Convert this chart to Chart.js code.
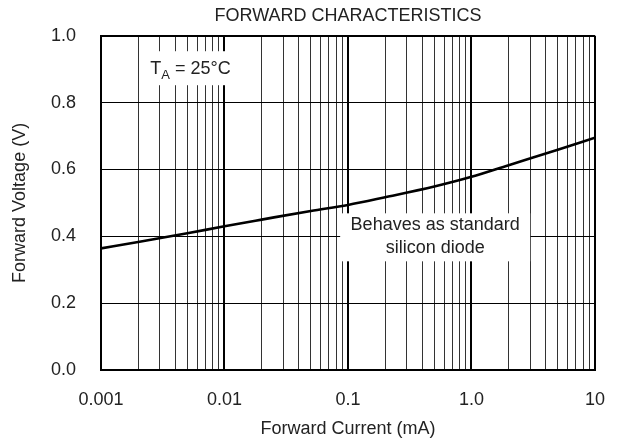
<!DOCTYPE html>
<html>
<head>
<meta charset="utf-8">
<script src="https://cdn.jsdelivr.net/npm/chart.js@4"></script>
<style>
  html, body { margin: 0; padding: 0; background: #fff; }
  #wrap { width: 624px; height: 440px; }
</style>
</head>
<body>
<div id="wrap"><canvas id="c" width="624" height="440"></canvas></div>
<script>
// ---- data ----
const forwardCurrent = [0.001, 0.002, 0.005, 0.01, 0.02, 0.05, 0.1, 0.2, 0.5, 1, 2, 5, 10];
const forwardVoltage = [0.364, 0.383, 0.409, 0.430, 0.450, 0.476, 0.494, 0.517, 0.549, 0.578, 0.613, 0.659, 0.695];
const xTickLabels = ['0.001', '0.01', '0.1', '1.0', '10'];
const xDecades = [0.001, 0.01, 0.1, 1, 10];
const minorMultipliers = [1, 2, 3, 4, 5, 6, 7, 8, 9];
const yTickValues = [0, 0.2, 0.4, 0.6, 0.8, 1.0];
const titleText = 'FORWARD CHARACTERISTICS';
const xTitle = 'Forward Current (mA)';
const yTitle = 'Forward Voltage (V)';
const tempNote = { main: 'T', sub: 'A', rest: ' = 25°C', x: 0.0053, y: 0.903 };
const diodeNote = { lines: ['Behaves as standard', 'silicon diode'], x: 0.508, y: 0.397 };

const FONT = "'Liberation Sans', Arial, Helvetica, sans-serif";
const TEXT = '#222';

const gridValues = [];
xDecades.slice(0, -1).forEach(d => minorMultipliers.forEach(m => gridValues.push(Number((d * m).toPrecision(6)))));
gridValues.push(xDecades[xDecades.length - 1]);

function isDecade(v) { return xDecades.some(d => Math.abs(v - d) / d < 1e-6); }
function decadeLabel(v) {
  const i = xDecades.findIndex(d => Math.abs(v - d) / d < 1e-6);
  return i >= 0 ? xTickLabels[i] : '';
}

const notesPlugin = {
  id: 'notes',
  afterDraw(chart) {
    const ctx = chart.ctx;
    const area = chart.chartArea;
    ctx.save();
    ctx.fillStyle = TEXT;
    ctx.font = '18px ' + FONT;
    ctx.textAlign = 'center';
    ctx.textBaseline = 'middle';
    ctx.fillText(titleText, (area.left + area.right) / 2, 16.5);
    ctx.restore();
  },
  afterDatasetsDraw(chart) {
    const ctx = chart.ctx;
    const xs = chart.scales.x, ys = chart.scales.y;
    ctx.save();
    // temperature note
    let cx = xs.getPixelForValue(tempNote.x), cy = ys.getPixelForValue(tempNote.y);
    ctx.fillStyle = '#fff';
    ctx.fillRect(cx - 50, cy - 17, 100, 34);
    ctx.fillStyle = TEXT;
    ctx.textBaseline = 'alphabetic';
    ctx.font = '18px ' + FONT;
    const wT = ctx.measureText(tempNote.main).width;
    const wR = ctx.measureText(tempNote.rest).width;
    ctx.font = '13px ' + FONT;
    const wA = ctx.measureText(tempNote.sub).width;
    let sx = cx - (wT + wA + wR) / 2;
    const base = cy + 6;
    ctx.font = '18px ' + FONT;
    ctx.textAlign = 'left';
    ctx.fillText(tempNote.main, sx, base);
    ctx.font = '13px ' + FONT;
    ctx.fillText(tempNote.sub, sx + wT, base + 5);
    ctx.font = '18px ' + FONT;
    ctx.fillText(tempNote.rest, sx + wT + wA, base);
    // diode note
    cx = xs.getPixelForValue(diodeNote.x); cy = ys.getPixelForValue(diodeNote.y);
    ctx.fillStyle = '#fff';
    ctx.fillRect(cx - 95, cy - 24, 190, 48);
    ctx.fillStyle = TEXT;
    ctx.textAlign = 'center';
    ctx.textBaseline = 'middle';
    ctx.font = '18px ' + FONT;
    ctx.fillText(diodeNote.lines[0], cx, cy - 12);
    ctx.fillText(diodeNote.lines[1], cx, cy + 11);
    ctx.restore();
  }
};

new Chart(document.getElementById('c'), {
  type: 'line',
  data: {
    datasets: [{
      data: forwardCurrent.map((x, i) => ({ x, y: forwardVoltage[i] })),
      borderColor: '#000',
      borderWidth: 2.6,
      pointRadius: 0,
      fill: false,
      cubicInterpolationMode: 'monotone'
    }]
  },
  options: {
    responsive: true,
    maintainAspectRatio: false,
    animation: false,
    devicePixelRatio: 1,
    layout: { padding: { left: 0, right: 27, top: 34, bottom: 0 } },
    plugins: {
      legend: { display: false },
      tooltip: { enabled: false },
      title: { display: false }
    },
    scales: {
      x: {
        type: 'logarithmic',
        min: 0.001,
        max: 10,
        afterBuildTicks(scale) { scale.ticks = gridValues.map(v => ({ value: v })); },
        afterFit(scale) { scale.height = 70; },
        ticks: {
          autoSkip: false,
          maxRotation: 0,
          padding: 19,
          color: TEXT,
          font: { family: FONT, size: 18 },
          callback(v) { return decadeLabel(v); }
        },
        grid: {
          drawTicks: false,
          color: c => isDecade(c.tick.value) ? '#000' : '#333',
          lineWidth: c => isDecade(c.tick.value) ? 2 : 1
        },
        border: { display: true, color: '#000', width: 2 },
        title: {
          display: true,
          text: xTitle,
          color: TEXT,
          font: { family: FONT, size: 18 },
          padding: { top: 0, bottom: 0 }
        }
      },
      y: {
        min: 0,
        max: 1,
        afterBuildTicks(scale) { scale.ticks = yTickValues.map(v => ({ value: v })); },
        afterFit(scale) { scale.width = 101; },
        ticks: {
          padding: 25,
          color: TEXT,
          font: { family: FONT, size: 18 },
          callback(v) { return Number(v).toFixed(1); }
        },
        grid: {
          drawTicks: false,
          color: '#000',
          lineWidth: c => (c.tick && c.tick.value === 1) ? 2 : 1
        },
        border: { display: true, color: '#000', width: 2 },
        title: {
          display: true,
          text: yTitle,
          color: TEXT,
          font: { family: FONT, size: 18 },
          padding: { top: 9, bottom: 0 }
        }
      }
    }
  },
  plugins: [notesPlugin]
});
</script>
</body>
</html>
